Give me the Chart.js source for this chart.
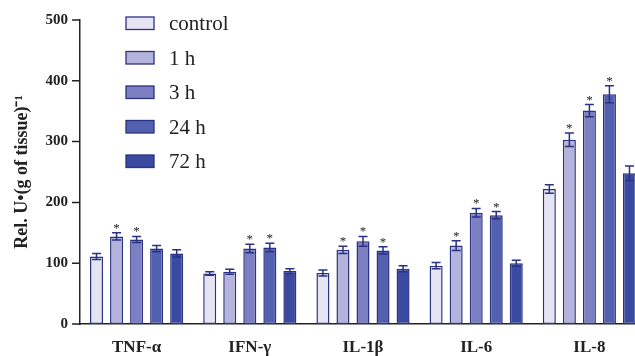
<!DOCTYPE html>
<html>
<head>
<meta charset="utf-8">
<script src="https://cdn.jsdelivr.net/npm/chart.js@4"></script>
<style>
  html, body { margin: 0; padding: 0; background: #fff; overflow: hidden; }
  /* plot runs a little past the right edge, like the source figure */
  #wrap { width: 646px; height: 356px; position: relative; }
</style>
</head>
<body>
<div id="wrap"><canvas id="chart"></canvas></div>
<script>
// data
const categories = ['TNF-α', 'IFN-γ', 'IL-1β', 'IL-6', 'IL-8'];
const seriesNames = ['control', '1 h', '3 h', '24 h', '72 h'];

const controlVals = [111, 83, 84, 96, 222];
const h1Vals = [144, 86, 122, 129, 303];
const h3Vals = [139, 124, 136, 183, 351];
const h24Vals = [124, 126, 121, 179, 378];
const h72Vals = [116, 87, 91, 100, 248];

const controlErr = [5, 3, 5, 5, 7];
const h1Err = [6, 4, 6, 8, 11];
const h3Err = [5, 7, 8, 7, 10];
const h24Err = [5, 7, 6, 6, 14];
const h72Err = [6, 4, 5, 5, 12];

// significance marks (1 = star above bar)
const controlStars = [0, 0, 0, 0, 0];
const h1Stars = [1, 0, 1, 1, 1];
const h3Stars = [1, 1, 1, 1, 1];
const h24Stars = [0, 1, 1, 1, 1];
const h72Stars = [0, 0, 0, 0, 0];

const yTicks = [0, 100, 200, 300, 400, 500];

const fills = ['#e4e4f2', '#b4b3db', '#7c7fc1', '#5360b0', '#3a4aa1'];
const edge = '#2b3282';
const serif = '"Liberation Serif", "Times New Roman", serif';

const values = [controlVals, h1Vals, h3Vals, h24Vals, h72Vals];
const errors = [controlErr, h1Err, h3Err, h24Err, h72Err];
const stars = [controlStars, h1Stars, h3Stars, h24Stars, h72Stars];

// error bars + stars
const errorBars = {
    id: 'errorBars',
    afterDatasetsDraw(chart) {
        const ctx = chart.ctx;
        const y = chart.scales.y;
        ctx.save();
        chart.data.datasets.forEach((ds, di) => {
            const meta = chart.getDatasetMeta(di);
            meta.data.forEach((bar, i) => {
                const v = ds.data[i];
                const e = errors[di][i];
                const top = y.getPixelForValue(v + e);
                const bot = y.getPixelForValue(v - e);
                const cx = bar.x;
                ctx.strokeStyle = edge;
                ctx.lineWidth = 1.5;
                ctx.beginPath();
                ctx.moveTo(cx, top); ctx.lineTo(cx, bot);
                ctx.moveTo(cx - 4.5, top); ctx.lineTo(cx + 4.5, top);
                ctx.moveTo(cx - 4.5, bot); ctx.lineTo(cx + 4.5, bot);
                ctx.stroke();
                if (stars[di][i]) {
                    ctx.fillStyle = '#222';
                    ctx.font = '13px ' + serif;
                    ctx.textAlign = 'center';
                    ctx.textBaseline = 'alphabetic';
                    ctx.fillText('*', cx, top - 1);
                }
            });
        });
        ctx.restore();
    }
};

// y tick marks, outward
const yTickMarks = {
    id: 'yTickMarks',
    afterDraw(chart) {
        const ctx = chart.ctx;
        const y = chart.scales.y;
        const left = chart.chartArea.left;
        ctx.save();
        ctx.strokeStyle = '#222';
        ctx.lineWidth = 1.5;
        ctx.beginPath();
        yTicks.forEach(v => {
            const py = y.getPixelForValue(v);
            ctx.moveTo(left - 8, py);
            ctx.lineTo(left, py);
        });
        ctx.stroke();
        ctx.restore();
    }
};

// legend drawn inside the plot, top left
const boxLegend = {
    id: 'boxLegend',
    afterDraw(chart) {
        const ctx = chart.ctx;
        ctx.save();
        chart.data.datasets.forEach((ds, i) => {
            const top = 17 + i * 34.5;
            ctx.fillStyle = ds.backgroundColor;
            ctx.fillRect(126, top, 28, 12.5);
            ctx.strokeStyle = edge;
            ctx.lineWidth = 1.3;
            ctx.strokeRect(126, top, 28, 12.5);
            ctx.fillStyle = '#222';
            ctx.font = '21px ' + serif;
            ctx.textAlign = 'left';
            ctx.textBaseline = 'alphabetic';
            ctx.fillText(ds.label, 169, top + 13);
        });
        ctx.restore();
    }
};

new Chart(document.getElementById('chart'), {
    type: 'bar',
    data: {
        labels: categories,
        datasets: seriesNames.map((name, i) => ({
            label: name,
            data: values[i],
            backgroundColor: fills[i],
            borderColor: edge,
            borderWidth: 1.5,
            borderSkipped: false,
            categoryPercentage: 0.885,
            barPercentage: 0.65
        }))
    },
    options: {
        responsive: true,
        maintainAspectRatio: false,
        animation: false,
        layout: { padding: { top: 20, right: 0, left: 12, bottom: 0 } },
        plugins: {
            legend: { display: false },
            tooltip: { enabled: false }
        },
        scales: {
            x: {
                grid: { display: false, drawTicks: false },
                border: { display: true, color: '#222', width: 1.5 },
                ticks: {
                    color: '#222',
                    padding: 13,
                    font: { family: serif, size: 17, weight: 'bold' }
                },
                afterFit(scale) { scale.height = 32; }
            },
            y: {
                min: 0,
                max: 500,
                afterBuildTicks(scale) { scale.ticks = yTicks.map(v => ({ value: v })); },
                grid: { display: false },
                border: { display: true, color: '#222', width: 1.5 },
                ticks: {
                    color: '#222',
                    padding: 4,
                    font: { family: serif, size: 15, weight: 'bold' }
                },
                title: {
                    display: true,
                    text: 'Rel. U•(g of tissue)⁻¹',
                    color: '#222',
                    padding: { top: 0, bottom: 4 },
                    font: { family: serif, size: 18, weight: 'bold' }
                },
                afterFit(scale) { scale.width = 68; }
            }
        }
    },
    plugins: [errorBars, yTickMarks, boxLegend]
});
</script>
</body>
</html>
